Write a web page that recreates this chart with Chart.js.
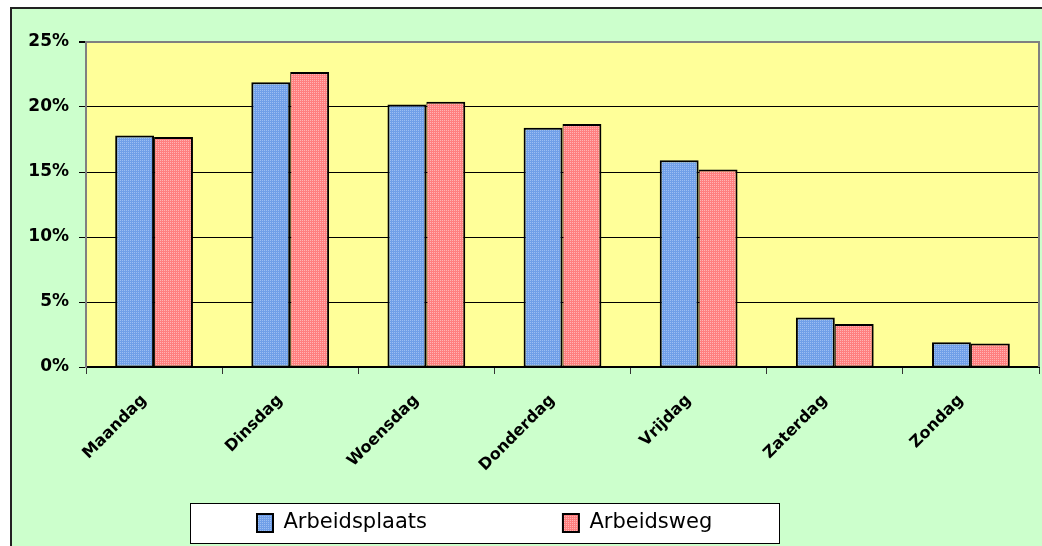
<!DOCTYPE html>
<html lang="nl">
<head>
<meta charset="utf-8">
<title>Verdeling per weekdag</title>
<script src="https://cdn.jsdelivr.net/npm/chart.js@4.4.1/dist/chart.umd.min.js"></script>
<style>
  html, body { margin: 0; padding: 0; background: #fff; }
  #wrap { position: relative; width: 1042px; height: 546px; }
  canvas { display: block; }
</style>
</head>
<body>
<div id="wrap"><canvas id="chart" width="1042" height="546"></canvas></div>
<script>
// Share per weekday (percent)
const weekdagen = ['Maandag', 'Dinsdag', 'Woensdag', 'Donderdag', 'Vrijdag', 'Zaterdag', 'Zondag'];
const arbeidsplaats = [17.8, 21.9, 20.2, 18.4, 15.9, 3.8, 1.9];
const arbeidsweg = [17.7, 22.7, 20.4, 18.7, 15.2, 3.3, 1.8];
const seriesNames = ['Arbeidsplaats', 'Arbeidsweg'];
const yTicks = [0, 5, 10, 15, 20, 25];

// Layout of the drawing (pixels)
const W = 1042, H = 546;
const PANEL = { left: 10, top: 7 };
const PLOT = { left: 86, top: 42, right: 1039, bottom: 367 };
const LEGEND = { height: 50, firstBox: 257, rowY: 512.5, spacing: 136, margin: 67 };

// Fine dotted fills for the bars
function dotPattern(base, dot) {
  const c = document.createElement('canvas');
  c.width = 4; c.height = 4;
  const g = c.getContext('2d');
  g.fillStyle = base; g.fillRect(0, 0, 4, 4);
  g.fillStyle = dot;
  g.fillRect(0, 0, 1, 1); g.fillRect(2, 0, 1, 1);
  g.fillRect(0, 2, 1, 1); g.fillRect(2, 2, 1, 1);
  return g.createPattern(c, 'repeat');
}
const blueFill = dotPattern('#709FE8', '#9CBEF2');
const redFill = dotPattern('#FF7F7F', '#FFB4B4');

Chart.defaults.font.family = "'DejaVu Sans', sans-serif";
Chart.defaults.color = '#000';

const backdrop = {
  id: 'backdrop',
  afterLayout(chart) {
    // one legend row under the day labels, items spaced by labels.padding
    const lg = chart.legend;
    const pad = lg.options.labels.padding;
    lg.left = LEGEND.firstBox - pad;
    lg.right = chart.width;
    lg.top = LEGEND.rowY - pad;
    lg.bottom = chart.height;
  },
  beforeDraw(chart) {
    const { ctx, chartArea: a, width, height } = chart;
    ctx.save();
    // green panel with dark top/left edge
    ctx.fillStyle = '#CCFFCC';
    ctx.fillRect(PANEL.left, PANEL.top, width - PANEL.left, height - PANEL.top);
    ctx.fillStyle = '#222';
    ctx.fillRect(PANEL.left, PANEL.top, width - PANEL.left, 2);
    ctx.fillRect(PANEL.left, PANEL.top, 2, height - PANEL.top);
    // yellow plot area
    ctx.fillStyle = '#FFFF99';
    ctx.fillRect(a.left, a.top, a.right - a.left, a.bottom - a.top);
    // white legend frame around the legend items
    const hb = chart.legend.legendHitBoxes;
    if (hb && hb.length) {
      const first = hb[0], last = hb[hb.length - 1];
      const fx = Math.round(first.left - LEGEND.margin) + 0.5;
      const fr = Math.round(last.left + last.width + LEGEND.margin) + 0.5;
      const ft = Math.round(first.top - 10) + 0.5;
      const fb = Math.round(first.top + first.height + 9) + 0.5;
      ctx.fillStyle = '#FFFFFF';
      ctx.fillRect(fx, ft, fr - fx, fb - ft);
      ctx.strokeStyle = '#000';
      ctx.lineWidth = 1;
      ctx.strokeRect(fx, ft, fr - fx, fb - ft);
    }
    ctx.restore();
  },
  beforeDatasetsDraw(chart) {
    // grey right edge of the plot area
    const { ctx, chartArea: a } = chart;
    ctx.save();
    ctx.strokeStyle = '#808080';
    ctx.lineWidth = 2;
    ctx.beginPath();
    ctx.moveTo(a.right, a.top - 1);
    ctx.lineTo(a.right, a.bottom);
    ctx.stroke();
    ctx.restore();
  }
};

new Chart(document.getElementById('chart'), {
  type: 'bar',
  data: {
    labels: weekdagen,
    datasets: [
      {
        label: seriesNames[0],
        data: arbeidsplaats,
        backgroundColor: blueFill,
        borderColor: '#000',
        borderWidth: { top: 2, left: 2, right: 2, bottom: 1 },
        borderSkipped: false
      },
      {
        label: seriesNames[1],
        data: arbeidsweg,
        backgroundColor: redFill,
        borderColor: '#000',
        borderWidth: { top: 2, left: 1, right: 2, bottom: 1 },
        borderSkipped: false
      }
    ]
  },
  options: {
    responsive: false,
    devicePixelRatio: 1,
    animation: false,
    layout: {
      padding: { left: PANEL.left, top: PLOT.top, right: W - PLOT.right, bottom: 0 }
    },
    datasets: {
      // gap between groups is 1.5 bar widths
      bar: { categoryPercentage: 2 / 3.5, barPercentage: 1 }
    },
    scales: {
      x: {
        offset: true,
        afterFit(scale) { scale.height = H - PLOT.bottom - LEGEND.height; },
        border: { display: true, color: '#000', width: 2 },
        grid: {
          offset: true,
          drawOnChartArea: false,
          drawTicks: true,
          tickLength: 7,
          tickColor: '#333',
          tickWidth: 1
        },
        ticks: {
          autoSkip: false,
          minRotation: 45,
          maxRotation: 45,
          padding: 17,
          labelOffset: -10,
          color: '#000',
          font: { size: 16, weight: 'bold' }
        }
      },
      y: {
        min: 0,
        max: 25,
        afterFit(scale) { scale.width = PLOT.left - PANEL.left; },
        afterBuildTicks(scale) { scale.ticks = yTicks.map(v => ({ value: v })); },
        border: { display: true, color: '#808080', width: 2 },
        grid: {
          color: ctx => (ctx.tick && ctx.tick.value === 25 ? '#808080' : '#000'),
          lineWidth: ctx => (ctx.tick && ctx.tick.value === 25 ? 2 : 1),
          tickColor: '#000',
          tickLength: 7,
          drawTicks: true
        },
        ticks: {
          padding: 10,
          color: '#000',
          font: { size: 17, weight: 'bold' },
          callback: v => v + '%'
        }
      }
    },
    plugins: {
      tooltip: { enabled: false },
      legend: {
        position: 'bottom',
        align: 'start',
        maxHeight: LEGEND.height,
        labels: {
          boxWidth: 16,
          boxHeight: 18,
          padding: LEGEND.spacing,
          color: '#000',
          font: { size: 21 },
          generateLabels(chart) {
            const items = Chart.defaults.plugins.legend.labels.generateLabels(chart);
            items.forEach(it => { it.lineWidth = 2; it.strokeStyle = '#000'; });
            return items;
          }
        }
      }
    }
  },
  plugins: [backdrop]
});
</script>
</body>
</html>
